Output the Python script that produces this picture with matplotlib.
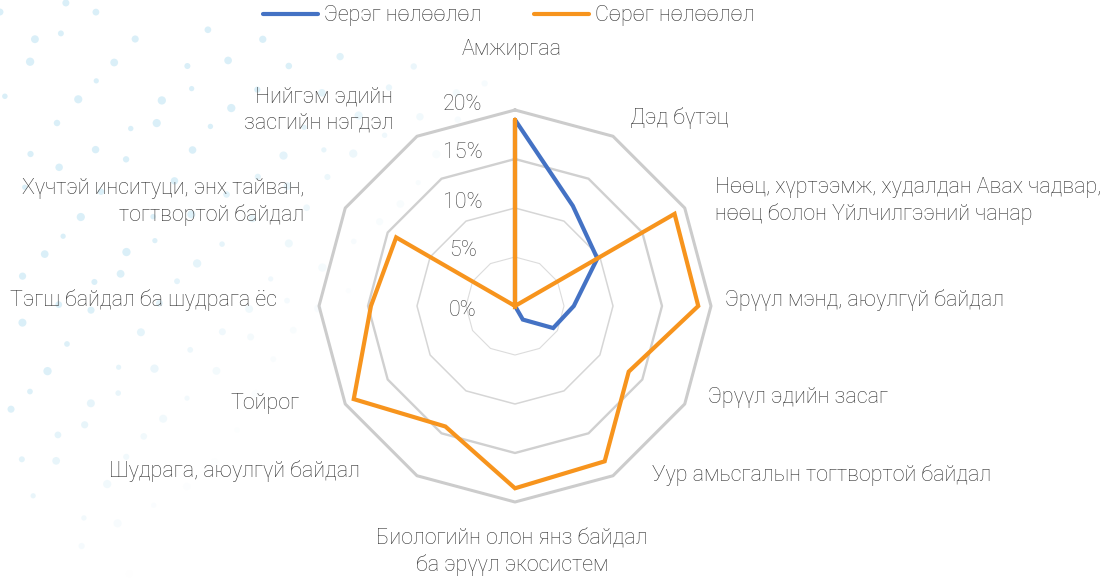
import numpy as np
import matplotlib
matplotlib.use("Agg")
import matplotlib.pyplot as plt

plt.rcParams['font.family'] = ['Roboto', 'DejaVu Sans']

# ---------------- data ----------------
categories = [
    "Амжиргаа",
    "Дэд бүтэц",
    "Нөөц, хүртээмж, худалдан Авах чадвар,\nнөөц болон Үйлчилгээний чанар",
    "Эрүүл мэнд, аюулгүй байдал",
    "Эрүүл эдийн засаг",
    "Уур амьсгалын тогтвортой байдал",
    "Биологийн олон янз байдал\nба эрүүл экосистем",
    "Шудрага, аюулгүй байдал",
    "Тойрог",
    "Тэгш байдал ба шудрага ёс",
    "Хүчтэй инситуци, энх тайван,\nтогтвортой байдал",
    "Нийгэм эдийн\nзасгийн нэгдэл",
]
positive = [19.0, 11.8, 9.7, 6.0, 4.5, 1.6, 0.0, 0.0, 0.0, 0.0, 0.0, 0.0]
negative = [19.0, 0.0, 18.8, 18.7, 13.4, 18.3, 18.6, 14.2, 19.0, 14.7, 14.0, 0.0]
series_names = ["Эерэг нөлөөлөл", "Сөрөг нөлөөлөл"]
ring_values = [5, 10, 15, 20]
tick_values = [0, 5, 10, 15, 20]
tick_labels = ["0%", "5%", "10%", "15%", "20%"]

# ---------------- layout / style ----------------
W, H = 1109, 581
CX, CY, R = 515, 306, 196
BLUE = "#4472C4"
ORANGE = "#F7941D"
TXT = "#333333"
FS = 15.5
FW = "light"

# label anchors in pixels (x, y from top, ha)
label_layout = [
    (512, 50, "center"),
    (630, 118, "left"),
    (715, 201, "left"),
    (725, 300, "left"),
    (708, 397, "left"),
    (652, 475, "left"),
    (512, 552, "center"),
    (360, 471, "right"),
    (300, 403, "right"),
    (277, 300, "right"),
    (304, 202, "right"),
    (393, 110, "right"),
]

fig = plt.figure(figsize=(W / 100, H / 100), dpi=100)
fig.patch.set_facecolor("white")

# decorative faint dot background
bg = fig.add_axes([0, 0, 1, 1])
bg.set_xlim(0, W)
bg.set_ylim(H, 0)
bg.axis("off")
xs, ys, ss, al = [], [], [], []
for j in range(0, 18):
    for i in range(-6, 16):
        x = i * 50 + j * 23 + 16 * np.sin(i * 1.7 + j * 2.3)
        y = j * 36 + i * 9 + 12 * np.cos(i * 2.1 + j * 1.3)
        lim = 620 - 0.85 * y
        if x < 0 or y < 0 or y > H or x > lim:
            continue
        a = min(1.0, (lim - x) / 280.0)
        xs.append(x)
        ys.append(y)
        ss.append(14 + 22 * (0.5 + 0.5 * np.sin(i * 3.1 + j * 0.7)))
        al.append(a)
cols = [(0.83, 0.93, 0.97, a * 0.85) for a in al]
bg.scatter(xs, ys, s=ss, c=cols, linewidths=0)

# polar radar axes
ax = fig.add_axes([(CX - R) / W, (H - CY - R) / H, 2 * R / W, 2 * R / H],
                  projection="polar")
ax.set_theta_zero_location("N")
ax.set_theta_direction(-1)
ax.set_ylim(0, 20)
ax.set_xticks([])
ax.set_yticks([])
ax.grid(False)
ax.spines["polar"].set_visible(False)
ax.patch.set_alpha(0)

n = len(categories)
theta = np.linspace(0, 2 * np.pi, n, endpoint=False)
theta_c = np.append(theta, theta[0])

ring_w = [0.8, 1.1, 1.7, 2.2]
ring_c = ["#dcdcdc", "#d6d6d6", "#d0d0d0", "#cccccc"]
for rv, lw, c in zip(ring_values, ring_w, ring_c):
    ax.plot(theta_c, [rv] * (n + 1), color=c, lw=lw, zorder=1, clip_on=False)

pos_c = np.append(positive, positive[0])
neg_c = np.append(negative, negative[0])
l1, = ax.plot(theta_c, pos_c, color=BLUE, lw=3.0, zorder=3, clip_on=False,
              solid_joinstyle="miter", solid_capstyle="round", label=series_names[0])
l2, = ax.plot(theta_c, neg_c, color=ORANGE, lw=3.0, zorder=4, clip_on=False,
              solid_joinstyle="miter", solid_capstyle="round", label=series_names[1])

# radial tick labels
for tv, tl in zip(tick_values, tick_labels):
    dy = -4 if tv == 0 else 6
    ax.annotate(tl, xy=(0, tv), xytext=(-52, dy), textcoords="offset pixels",
                ha="center", va="center", fontsize=FS, fontweight=FW,
                color="#404040", annotation_clip=False)

# category labels
for lab, (px, py, ha) in zip(categories, label_layout):
    fig.text(px / W, 1 - py / H, lab, ha=ha, va="center", fontsize=FS,
             fontweight=FW, color=TXT, linespacing=1.3,
             multialignment=ha)

# legend
leg = fig.legend(handles=[l1, l2], loc="center", bbox_to_anchor=(509 / W, 1 - 16 / H),
                 ncol=2, frameon=False, handlelength=2.55,
                 handletextpad=0.28, columnspacing=2.45, labelcolor=TXT,
                 prop={"size": FS, "weight": FW})

fig.savefig("out.png", dpi=100, facecolor="white")
